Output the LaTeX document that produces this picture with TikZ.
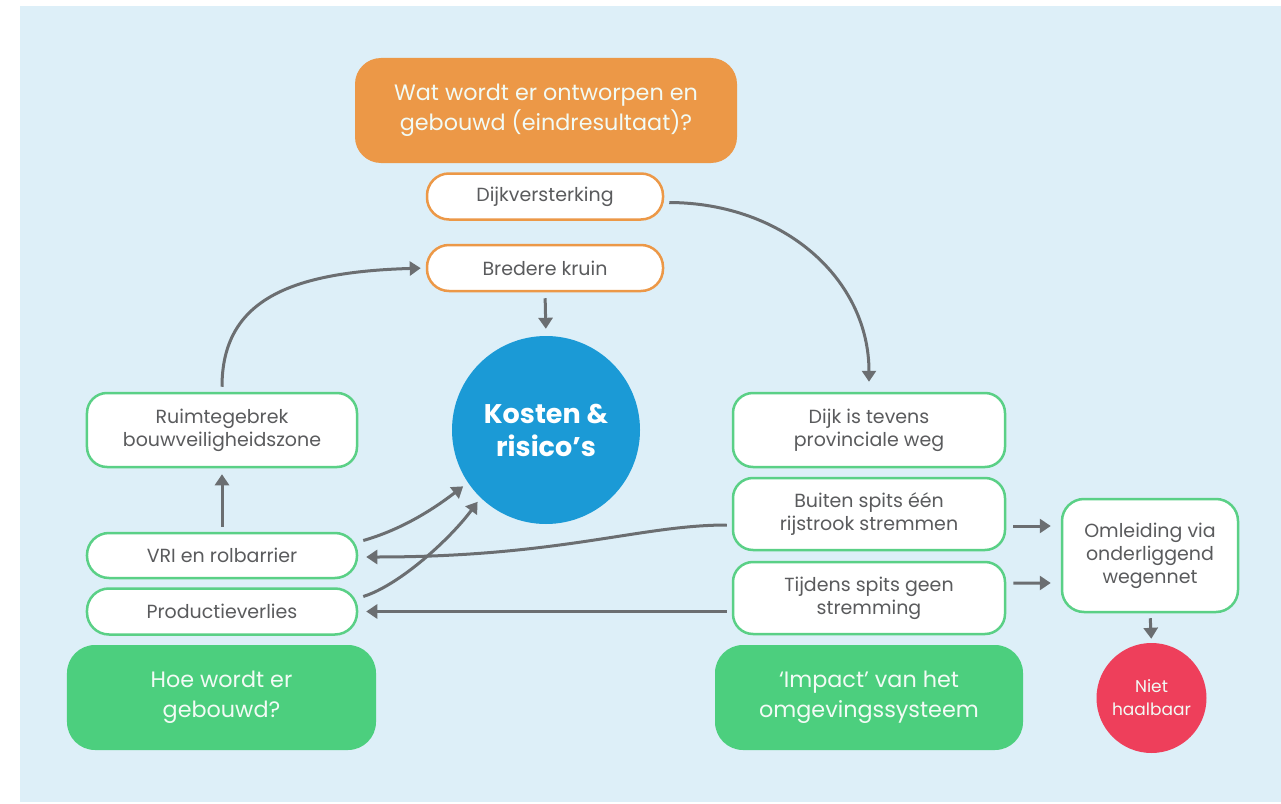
\documentclass[tikz,border=0pt]{standalone}
\usepackage{fontspec}
\setmainfont{Poppins}
\usetikzlibrary{arrows.meta,calc}
\definecolor{bg}{HTML}{DDEFF8}
\definecolor{orangeC}{HTML}{EC9847}
\definecolor{greenL}{HTML}{5AD086}
\definecolor{greenF}{HTML}{4CCF7E}
\definecolor{blueC}{HTML}{1B9AD6}
\definecolor{redC}{HTML}{EE3F5B}
\definecolor{txt}{HTML}{5A5B5D}
\definecolor{arrowC}{HTML}{6B6E71}
\definecolor{lighttxt}{HTML}{F2FBF5}
\begin{document}
\begin{tikzpicture}[x=1bp,y=-1bp,
  smalltext/.style={text=txt, align=center, font=\fontsize{19bp}{23bp}\selectfont},
  bigtext/.style={text=lighttxt, align=center, font=\fontsize{22.3bp}{29.5bp}\selectfont},
  obox/.style={smalltext, draw=orangeC, line width=2.5bp, fill=white, rounded corners=22bp,
               minimum width=236bp, minimum height=46bp, inner sep=0pt},
  gbox/.style={smalltext, draw=greenL, line width=2.5bp, fill=white, rounded corners=20bp,
               minimum width=270bp, inner sep=0pt},
  fbox/.style={bigtext, fill=greenF, rounded corners=28bp, minimum width=308bp, minimum height=105bp, inner sep=0pt},
  arr/.style={draw=arrowC, line width=3bp, -{Triangle[width=14bp,length=11bp]}},
]
\useasboundingbox (0,0) rectangle (1281,804);
\fill[bg] (20,6) rectangle (1281,802);

% top
\node[bigtext, fill=orangeC, rounded corners=26bp, minimum width=382bp, minimum height=105bp, inner sep=0pt]
  (title) at (546,110.5) {Wat wordt er ontworpen en\\gebouwd (eindresultaat)?};
\node[obox] (dijk) at (545,196.5) {Dijkversterking};
\node[obox] (kruin) at (545,268) {Bredere kruin};
\node[circle, fill=blueC, minimum size=188bp, inner sep=0pt, text=white, align=center,
      font=\fontsize{27bp}{33bp}\selectfont\bfseries] (kosten) at (546,430) {Kosten \&\\risico’s};

% left column
\node[gbox, minimum height=74bp] (ruimte) at (222,430) {Ruimtegebrek\\bouwveiligheidszone};
\node[gbox, minimum height=45bp, rounded corners=22bp] (vri) at (222,555.5) {VRI en rolbarrier};
\node[gbox, minimum height=46bp, rounded corners=22bp] (prod) at (222,611.5) {Productieverlies};
\node[fbox, minimum width=309bp] (hoe) at (221.5,697.5) {Hoe wordt er\\gebouwd?};

% right column
\node[gbox, minimum width=272bp, minimum height=74bp] (dijkt) at (869,430) {Dijk is tevens\\provinciale weg};
\node[gbox, minimum width=272bp, minimum height=72bp] (buiten) at (869,514) {Buiten spits één\\rijstrook stremmen};
\node[gbox, minimum width=272bp, minimum height=72bp] (tijdens) at (869,598) {Tijdens spits geen\\stremming};
\node[fbox] (impact) at (869,697.5) {‘Impact’ van het\\omgevingssysteem};

% far right
\node[gbox, minimum width=176bp, minimum height=113bp, rounded corners=22bp] (oml) at (1150,555.5)
  {Omleiding via\\onderliggend\\wegennet};
\node[circle, fill=redC, minimum size=110bp, inner sep=0pt, text=lighttxt, align=center,
      font=\fontsize{17bp}{23bp}\selectfont] (niet) at (1151.5,698) {Niet\\haalbaar};

% connectors
\draw[arr, shorten >=10bp] ($(dijk.east)+(5,6)$) .. controls (785,203) and (869,280) .. (dijkt.north);
\draw[arr, shorten <=6bp, shorten >=7bp] (kruin.south) -- (kosten.north);
\draw[arr, shorten <=5bp, shorten >=5bp] (ruimte.north) .. controls (222,300) and (290,272) .. (kruin.west);
\draw[arr, shorten <=5bp, shorten >=6bp] (vri.north) -- (ruimte.south);
\draw[arr, shorten >=6bp] ($(vri.east)+(5,-15)$) .. controls (400,530) and (431,511) .. (kosten.214.5);
\draw[arr, shorten >=5bp] ($(prod.east)+(5,-15)$) .. controls (400,585) and (451,538) .. (kosten.226);
\draw[arr, shorten >=8bp] ($(buiten.west)+(-5,11)$) .. controls (640,525) and (560,557) .. ($(vri.east)+(0,1.5)$);
\draw[arr, shorten >=8bp] ($(tijdens.west|-prod.east)+(-5,0)$) -- (prod.east);
\draw[arr] ($(buiten.east)+(7,12)$) -- ($(oml.west)+(-10,-29.5)$);
\draw[arr] ($(tijdens.east)+(7,-15)$) -- ($(oml.west)+(-10,27.5)$);
\draw[arr, shorten <=5bp, shorten >=4bp] (oml.south) -- (niet.north);
\end{tikzpicture}
\end{document}
